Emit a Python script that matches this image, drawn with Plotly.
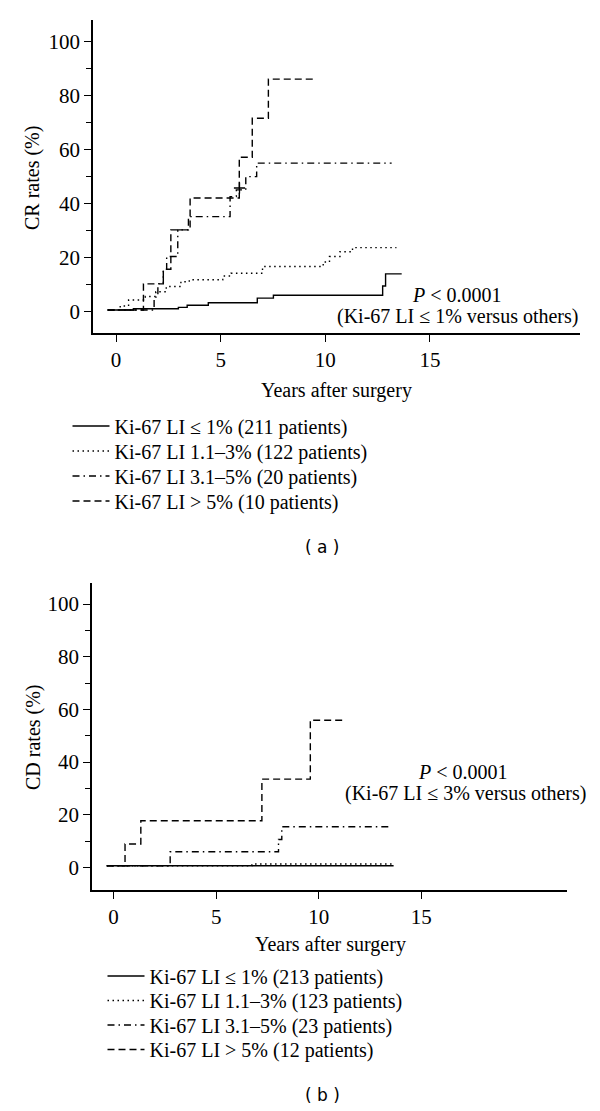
import plotly.graph_objects as go

# ---------------- data ----------------
# Panel (a): CR rates (%)
a_le1_years = [-0.4, 0.83, 2.98, 3.4, 4.41, 6.75, 7.52, 12.74, 12.88, 13.65]
a_le1_rate = [0.7, 1.2, 1.7, 2.5, 3.4, 5.1, 6.2, 9.6, 14.1, 14.1]

a_1to3_years = [-0.4, 0.2, 0.6, 1.4, 1.9, 2.4, 3.1, 3.5, 5.1, 5.5, 7.0, 9.9, 10.2, 10.7, 11.3, 13.4]
a_1to3_rate = [0.7, 2.2, 4.4, 5.7, 7.5, 9.4, 11.2, 11.9, 13.3, 14.3, 16.8, 18.5, 20.5, 22.3, 23.8, 23.8]

a_3to5_years = [-0.4, 1.82, 2.0, 2.26, 2.42, 2.95, 3.46, 5.45, 5.75, 6.2, 6.72, 13.17]
a_3to5_rate = [0.7, 5.5, 10.5, 15.8, 20.5, 30.4, 35.3, 42.7, 45.2, 50.1, 55.1, 55.1]

a_gt5_years = [-0.4, 1.31, 2.26, 2.62, 3.54, 5.89, 6.51, 7.28, 9.43]
a_gt5_rate = [0.7, 10.4, 15.8, 30.4, 42.2, 57.3, 71.7, 86.2, 86.2]

a_censor_years = [5.9]
a_censor_rate = [45.9]

# Panel (b): CD rates (%)
b_le1_years = [-0.33, 13.65]
b_le1_rate = [0.6, 0.6]

b_1to3_years = [-0.33, 6.74, 13.65]
b_1to3_rate = [0.6, 1.25, 1.25]

b_3to5_years = [-0.33, 2.76, 8.04, 8.2, 13.4]
b_3to5_rate = [0.6, 5.9, 10.6, 15.4, 15.4]

b_gt5_years = [-0.33, 0.56, 1.33, 7.23, 9.59, 11.33]
b_gt5_rate = [0.6, 8.85, 17.7, 33.5, 55.9, 55.9]

a_names = ["Ki-67 LI ≤ 1% (211 patients)", "Ki-67 LI 1.1–3% (122 patients)",
           "Ki-67 LI 3.1–5% (20 patients)", "Ki-67 LI > 5% (10 patients)"]
b_names = ["Ki-67 LI ≤ 1% (213 patients)", "Ki-67 LI 1.1–3% (123 patients)",
           "Ki-67 LI 3.1–5% (23 patients)", "Ki-67 LI > 5% (12 patients)"]

y_ticks = [0, 20, 40, 60, 80, 100]
x_ticks = [0, 5, 10, 15]

# ---------------- styling ----------------
W, H = 600, 1111
SERIF = "Liberation Serif"
FS = 20
TICK_FS = 21
DASHES = ["solid", "1.5px,3.5px", "7px,4px,1.5px,4px", "7px,4px"]
LW = 1.4
LEG_A_X, LEG_A_Y = 67.5, [426, 451, 476, 501]
LEG_B_X, LEG_B_Y = 102.5, [976, 1000.5, 1025, 1049.5]


def pxx(x):
    return x / W


def pxy(y):
    return 1 - y / H


fig = go.Figure()

a_data = [(a_le1_years, a_le1_rate), (a_1to3_years, a_1to3_rate),
          (a_3to5_years, a_3to5_rate), (a_gt5_years, a_gt5_rate)]
b_data = [(b_le1_years, b_le1_rate), (b_1to3_years, b_1to3_rate),
          (b_3to5_years, b_3to5_rate), (b_gt5_years, b_gt5_rate)]

legend_layouts = {}
k = 1
for (xs, ys), name, dash, ly in zip(a_data, a_names, DASHES, LEG_A_Y):
    lname = "legend" if k == 1 else f"legend{k}"
    fig.add_trace(go.Scatter(x=xs, y=ys, mode="lines", line_shape="hv", name=name,
                             line=dict(color="black", width=LW, dash=dash),
                             xaxis="x", yaxis="y", legend=lname))
    legend_layouts[lname] = dict(x=pxx(LEG_A_X), y=pxy(ly))
    k += 1
fig.add_trace(go.Scatter(x=a_censor_years, y=a_censor_rate, mode="markers", showlegend=False,
                         marker=dict(symbol="cross-thin", size=8, line=dict(color="black", width=1.3)),
                         xaxis="x", yaxis="y"))

for (xs, ys), name, dash, ly in zip(b_data, b_names, DASHES, LEG_B_Y):
    lname = f"legend{k}"
    fig.add_trace(go.Scatter(x=xs, y=ys, mode="lines", line_shape="hv", name=name,
                             line=dict(color="black", width=LW, dash=dash),
                             xaxis="x2", yaxis="y2", legend=lname))
    legend_layouts[lname] = dict(x=pxx(LEG_B_X), y=pxy(ly))
    k += 1

axis_common = dict(showline=True, linecolor="black", linewidth=1.5, showgrid=False,
                   zeroline=False, ticks="outside", ticklen=7, tickwidth=1.3,
                   tickcolor="black", tickfont=dict(family=SERIF, size=TICK_FS, color="black"),
                   fixedrange=True)

fig.update_layout(
    width=W, height=H, margin=dict(l=0, r=0, t=0, b=0),
    paper_bgcolor="white", plot_bgcolor="white",
    font=dict(family=SERIF, size=FS, color="black"),
    xaxis=dict(domain=[pxx(93), pxx(580)], anchor="y", range=[-1.1, 22.17],
               tickvals=x_ticks, **axis_common),
    yaxis=dict(domain=[pxy(333), pxy(20)], anchor="x", range=[-7.8, 108.1],
               tickvals=y_ticks,
               minor=dict(dtick=10, tick0=0, ticks="outside", ticklen=5, tickcolor="black", tickwidth=1.2),
               **axis_common),
    xaxis2=dict(domain=[pxx(92), pxx(567)], anchor="y2", range=[-1.05, 22.1],
                tickvals=x_ticks, **axis_common),
    yaxis2=dict(domain=[pxy(890), pxy(583)], anchor="x2", range=[-8.6, 108.0],
                tickvals=y_ticks,
                minor=dict(dtick=10, tick0=0, ticks="outside", ticklen=5, tickcolor="black", tickwidth=1.2),
                **axis_common),
    showlegend=True,
)
for lname, pos in legend_layouts.items():
    fig.update_layout({lname: dict(x=pos["x"], y=pos["y"], xanchor="left", yanchor="middle",
                                   font=dict(family=SERIF, size=FS, color="black"),
                                   bgcolor="rgba(0,0,0,0)", itemwidth=37,
                                   itemclick=False, itemdoubleclick=False)})

annotations = [
    dict(x=pxx(33), y=pxy(178), text="CR rates (%)", textangle=-90),
    dict(x=pxx(33), y=pxy(737), text="CD rates (%)", textangle=-90),
    dict(x=pxx(336), y=pxy(390), text="Years after surgery"),
    dict(x=pxx(330), y=pxy(945), text="Years after surgery"),
    dict(x=pxx(457), y=pxy(295), text="<i>P</i> < 0.0001"),
    dict(x=pxx(457), y=pxy(317), text="(Ki-67 LI ≤ 1% versus others)"),
    dict(x=pxx(463), y=pxy(772), text="<i>P</i> < 0.0001"),
    dict(x=pxx(465), y=pxy(793), text="(Ki-67 LI ≤ 3% versus others)"),
    dict(x=pxx(322), y=pxy(547), text="( a )", font=dict(family="DejaVu Sans", size=17, color="black")),
    dict(x=pxx(322), y=pxy(1095), text="( b )", font=dict(family="DejaVu Sans", size=17, color="black")),
]
for a in annotations:
    a.setdefault("font", dict(family=SERIF, size=FS, color="black"))
    fig.add_annotation(xref="paper", yref="paper", xanchor="center", yanchor="middle",
                       showarrow=False, **a)

fig.write_html("out.html", config={"displayModeBar": False},
               post_script="document.body.style.margin='0';document.body.style.padding='0';")
